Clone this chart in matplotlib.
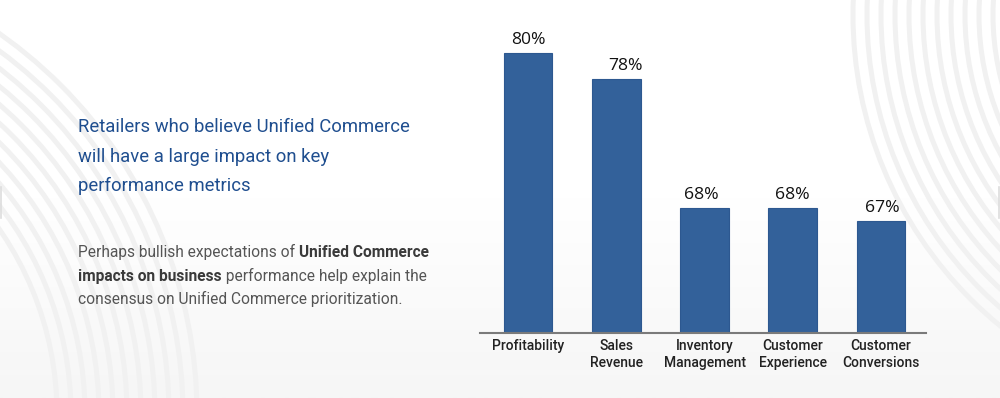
import numpy as np
import matplotlib
matplotlib.use("Agg")
import matplotlib.pyplot as plt
from matplotlib.patches import Circle

# --- dados ---------------------------------------------------------
categorias = ["Profitability", "Sales\nRevenue", "Inventory\nManagement",
              "Customer\nExperience", "Customer\nConversions"]
valores = [80, 78, 68, 68, 67]
rotulos = [f"{v}%" for v in valores]

titulo = ["Retailers who believe Unified Commerce",
          "will have a large impact on key",
          "performance metrics"]

# texto do corpo: (trecho, negrito?)
corpo = [
    [("Perhaps bullish expectations of ", False), ("Unified Commerce", True)],
    [("impacts on business", True), (" performance help explain the", False)],
    [("consensus on Unified Commerce prioritization.", False)],
]

cor_barra = "#33619a"
cor_titulo = "#1f4e8f"
cor_corpo = "#555555"
cor_negrito = "#3a3a3a"

fig = plt.figure(figsize=(10, 3.98), dpi=100)
fig.patch.set_facecolor("white")

# --- fundo: degrade leve + arcos decorativos -------------------------
bg = fig.add_axes([0, 0, 1, 1], zorder=-5)
bg.set_xlim(0, 1000)
bg.set_ylim(398, 0)
bg.axis("off")
grad = np.linspace(0, 1, 200).reshape(-1, 1)
bg.imshow(grad, extent=(0, 1000, 398, 0), aspect="auto",
          cmap=matplotlib.colors.LinearSegmentedColormap.from_list(
              "bg", ["#ffffff", "#ffffff", "#f6f6f6"]), zorder=0)
for r in np.arange(325, 470, 14):
    bg.add_patch(Circle((-268, 414), r, fill=False, lw=3.6,
                        ec="#f1f1f1", zorder=1))
for r in np.arange(262, 410, 14):
    bg.add_patch(Circle((1255, 15), r, fill=False, lw=3.6,
                        ec="#f1f1f1", zorder=1))
bg.plot([0.8, 0.8], [187, 218], color="#dddddd", lw=1.2, zorder=2)
bg.plot([999.2, 999.2], [187, 218], color="#dddddd", lw=1.2, zorder=2)

# --- grafico de barras ------------------------------------------------
ax = fig.add_axes([0.48, 65 / 398, 0.446, 313 / 398])
ax.patch.set_alpha(0)
x = np.arange(len(valores))
ax.bar(x, valores, width=0.555, color=cor_barra, edgecolor="#2d5890",
       linewidth=0.8, bottom=0, zorder=2)
ax.set_ylim(58.3, 82.6)
ax.set_xlim(-0.544, 4.51)

# o rotulo de 78% fica um pouco deslocado para a direita no original
desloc = [0, 6.5, -2, 0, 1]
for xi, v, txt, dx in zip(x, valores, rotulos, desloc):
    ax.annotate(txt, xy=(xi, v), xytext=(dx, 6.5), textcoords="offset points",
                ha="center", va="baseline", fontsize=12.6,
                family="Open Sans", color="#111111")

ax.set_xticks(x)
ax.set_xticklabels(categorias, fontsize=10, family="Roboto",
                   fontweight="medium", color="#222222", linespacing=1.3)
ax.tick_params(axis="x", length=0, pad=4)
ax.set_yticks([])
for lado in ["top", "right", "left"]:
    ax.spines[lado].set_visible(False)
ax.spines["bottom"].set_color("#7a7a7a")
ax.spines["bottom"].set_linewidth(1.5)

# --- textos da esquerda ------------------------------------------------
base_titulo = [132, 162, 191]
for linha, yb in zip(titulo, base_titulo):
    fig.text(0.078, 1 - yb / 398, linha, fontsize=13.35, family="Roboto",
             color=cor_titulo, va="baseline", ha="left")

base_corpo = [257, 280.5, 304]
for partes, yb in zip(corpo, base_corpo):
    ultimo = None
    for trecho, negrito in partes:
        estilo = dict(fontsize=11.2, family="Roboto",
                      fontweight="bold" if negrito else "normal",
                      color=cor_negrito if negrito else cor_corpo,
                      va="bottom", ha="left")
        if ultimo is None:
            ultimo = fig.text(0.078, 1 - (yb + 3) / 398, trecho, **estilo)
        else:
            ultimo = ax.annotate(trecho, xy=(1, 0), xycoords=ultimo,
                                 annotation_clip=False, **estilo)

fig.savefig("out.png", dpi=100)
